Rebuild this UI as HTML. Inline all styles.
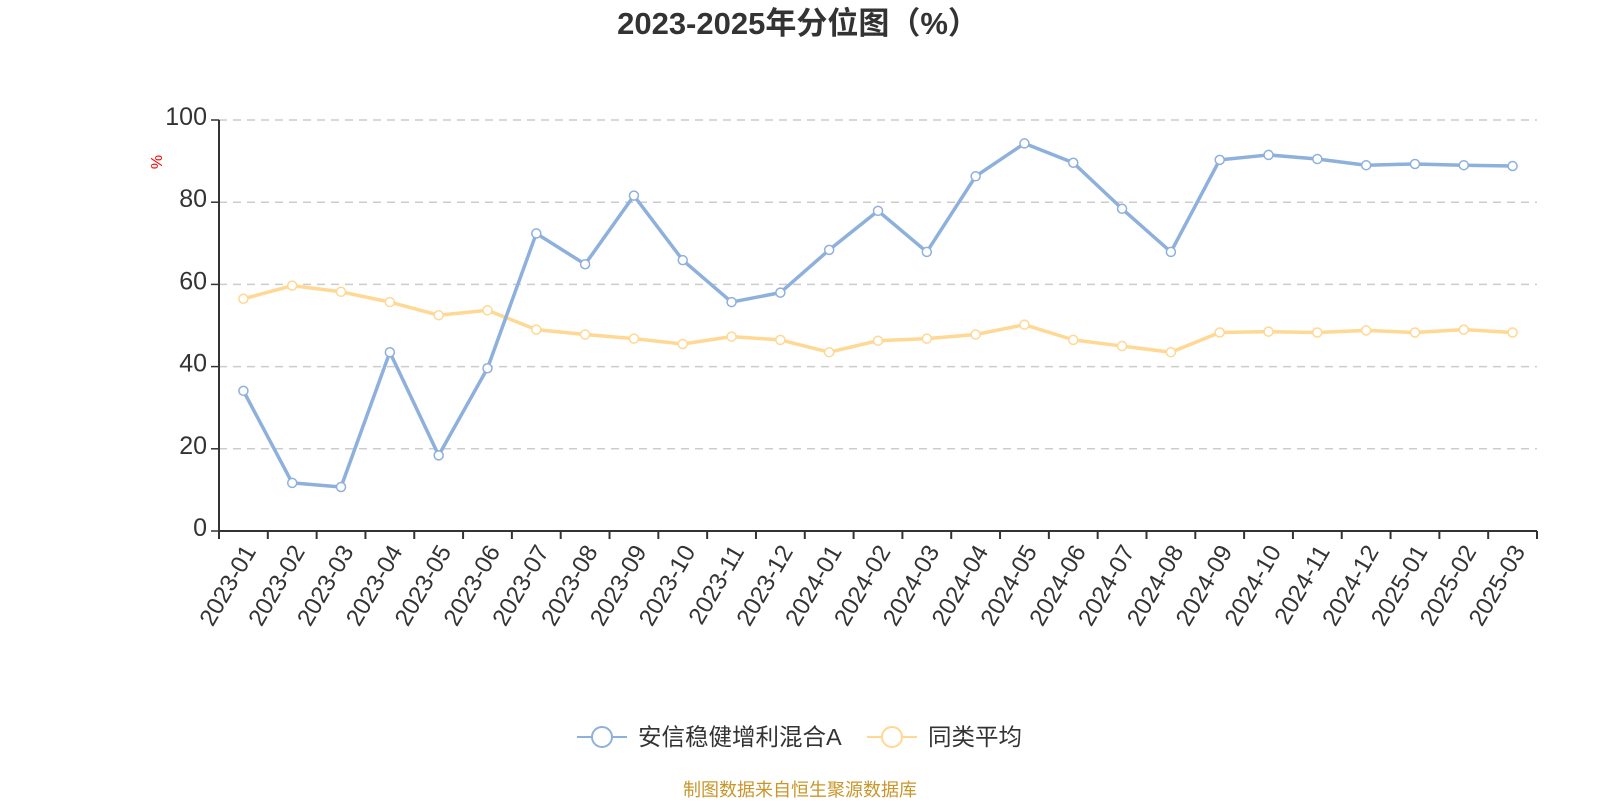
<!DOCTYPE html>
<html><head><meta charset="utf-8"><style>
body{margin:0;background:#fff;}
svg text{font-family:"Liberation Sans","Noto Sans CJK SC",sans-serif;}
</style></head><body>
<svg id="c" width="1600" height="800" xmlns="http://www.w3.org/2000/svg">
<text x="798" y="34" text-anchor="middle" font-size="31" font-weight="bold" fill="#333">2023-2025年分位图（%）</text>
<text transform="translate(162,162) rotate(-90)" text-anchor="middle" font-size="16" fill="#f00">%</text>
<g id="grid"></g><g id="axes"></g><g id="series"></g>
<g>
<g>
<line x1="577" y1="737" x2="627" y2="737" stroke="#8eb0dc" stroke-width="2"/>
<circle cx="602" cy="737" r="10" fill="#fff" stroke="#8eb0dc" stroke-width="2"/>
<text x="638" y="745" font-size="23.5" fill="#333">安信稳健增利混合A</text></g>
<g>
<line x1="867" y1="737" x2="917" y2="737" stroke="#ffd894" stroke-width="2"/>
<circle cx="892" cy="737" r="10" fill="#fff" stroke="#ffd894" stroke-width="2"/>
<text x="928" y="745" font-size="23.5" fill="#333">同类平均</text></g>
</g>
<text x="800" y="796" text-anchor="middle" font-size="18" fill="#c9962b">制图数据来自恒生聚源数据库</text>
</svg>
<script>
const categories=["2023-01","2023-02","2023-03","2023-04","2023-05","2023-06","2023-07","2023-08","2023-09","2023-10","2023-11","2023-12","2024-01","2024-02","2024-03","2024-04","2024-05","2024-06","2024-07","2024-08","2024-09","2024-10","2024-11","2024-12","2025-01","2025-02","2025-03"];
const fundValues=[34.1,11.7,10.7,43.5,18.4,39.6,72.4,64.9,81.6,65.9,55.7,58,68.4,77.9,67.9,86.3,94.3,89.6,78.4,67.9,90.3,91.5,90.5,89,89.3,89,88.8];
const avgValues=[56.5,59.7,58.2,55.7,52.5,53.7,49,47.8,46.8,45.5,47.3,46.5,43.5,46.3,46.8,47.8,50.2,46.5,45,43.5,48.3,48.5,48.3,48.8,48.3,49,48.3];
const yTicks=[0,20,40,60,80,100];
const NS="http://www.w3.org/2000/svg";
const L=219,R=1537,T=120,B=531;
const band=(R-L)/categories.length;
const xs=i=>L+band*(i+0.5);
const ys=v=>B-(v/100)*(B-T);
function mk(tag,attrs,parent){const e=document.createElementNS(NS,tag);for(const k in attrs)e.setAttribute(k,attrs[k]);parent.appendChild(e);return e;}
const grid=document.getElementById('grid'),axes=document.getElementById('axes'),ser=document.getElementById('series');
yTicks.forEach(t=>{
 const y=ys(t);
 if(t>0){const g=mk('line',{x1:L,x2:R,y1:y,y2:y,stroke:'#ccc','stroke-width':1.5,'stroke-dasharray':'8,6'},grid);
 
 }
 const tk=mk('line',{x1:L-8,x2:L,y1:y,y2:y,stroke:'#333','stroke-width':1.5},axes);
 
 
 const tx=mk('text',{x:L-12,y:y+5,'text-anchor':'end','font-size':25,fill:'#333'},axes);
 tx.textContent=t;
 
 
});
const ya=mk('line',{x1:L,x2:L,y1:T,y2:B,stroke:'#333','stroke-width':2},axes);


const xa=mk('line',{x1:L,x2:R,y1:B,y2:B,stroke:'#333','stroke-width':2},axes);


for(let i=0;i<=categories.length;i++){
 const x=L+band*i;
 const tk=mk('line',{x1:x,x2:x,y1:B,y2:B+8,stroke:'#333','stroke-width':2},axes);
 
 
}
categories.forEach((c,i)=>{
 const x=xs(i)+6,y=B+16;
 const t=mk('text',{x:x,y:y,'text-anchor':'end','font-size':24,fill:'#333',transform:`rotate(-60 ${x} ${y})`,dy:'0.35em'},axes);
 t.textContent=c;
 
 
});
function series(vals,color,name){
 const p=mk('polyline',{points:vals.map((v,i)=>xs(i)+','+ys(v)).join(' '),fill:'none',stroke:color,'stroke-width':3.5,'stroke-linejoin':'round'},ser);
 
 
 vals.forEach((v,i)=>{
  const c=mk('circle',{cx:xs(i),cy:ys(v),r:4.5,fill:'#fff',stroke:color,'stroke-width':1.5},ser);
  
  
 });
}
series(avgValues,'#ffd894','average');
series(fundValues,'#8eb0dc','fund');
</script>
</body></html>
